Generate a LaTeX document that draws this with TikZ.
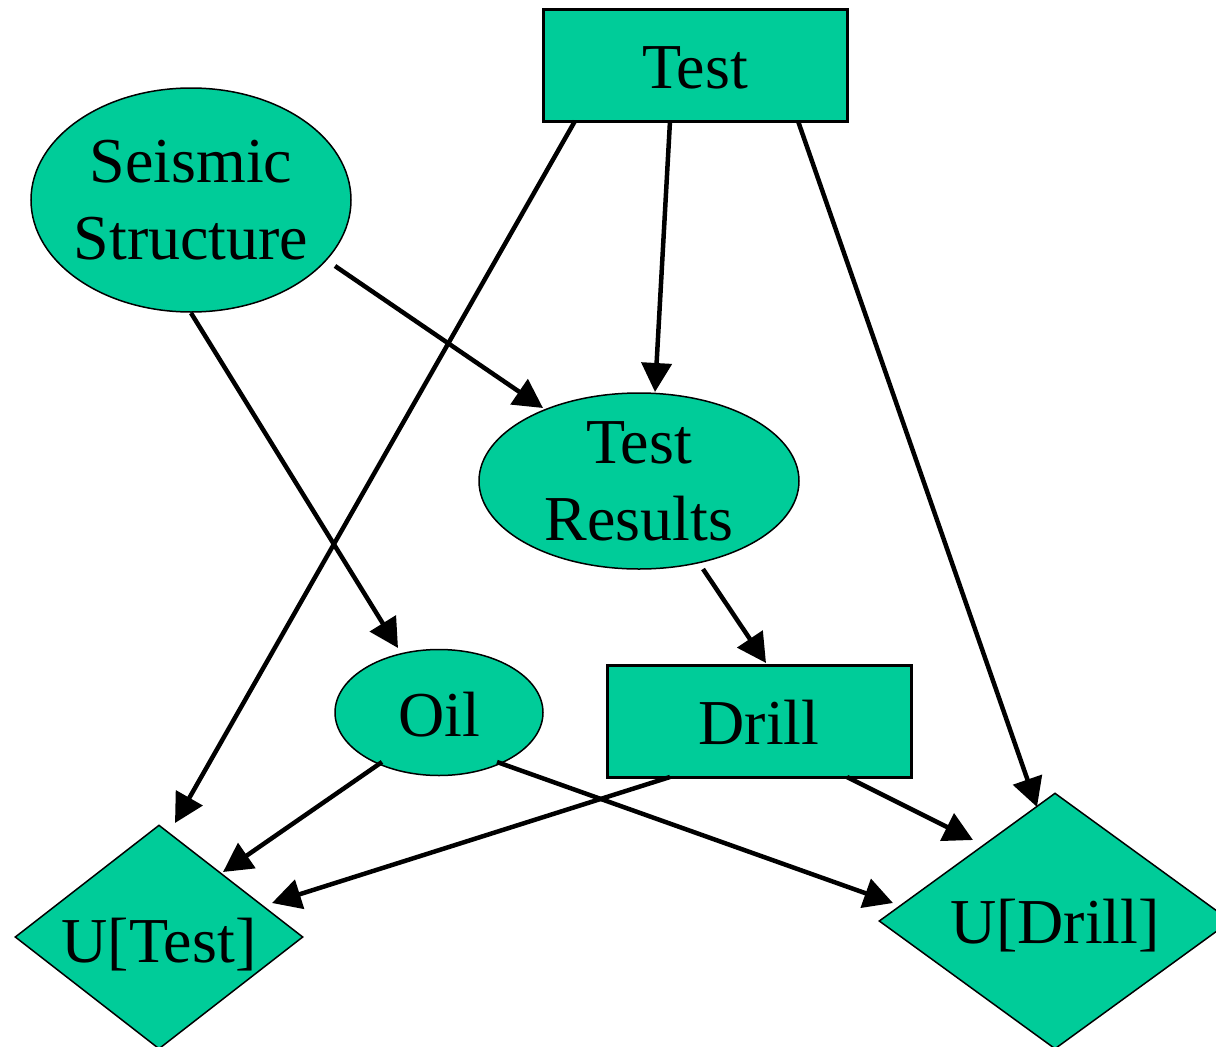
\documentclass[tikz,border=0pt]{standalone}
\usepackage{fontspec}
\setmainfont{Liberation Serif}
\usetikzlibrary{shapes.geometric,arrows.meta}
\definecolor{nodegreen}{RGB}{0,204,153}
\begin{document}
\begin{tikzpicture}[x=1pt,y=-1pt,
  lbl/.style={font=\fontsize{64}{77}\selectfont, align=center, text=black},
  boxnode/.style={lbl, rectangle, draw=black, line width=3pt, fill=nodegreen, inner sep=0pt},
  ellnode/.style={lbl, ellipse, draw=black, line width=1.5pt, fill=nodegreen, inner sep=-45pt},
  dianode/.style={lbl, diamond, draw=black, line width=1.5pt, fill=nodegreen, inner sep=-60pt},
  conn/.style={line width=4.5pt, -{Triangle[length=29pt,width=30pt]}}
]
\useasboundingbox (0,0) rectangle (1216,1047);

\node[boxnode, minimum width=304pt, minimum height=112pt, text height=46pt, text depth=0pt] (test) at (695,65) {Test};
\node[ellnode, minimum width=320pt, minimum height=224pt] (seis) at (191,200) {Seismic\\Structure};
\node[ellnode, minimum width=320pt, minimum height=176pt] (res) at (639,481) {Test\\Results};
\node[ellnode, minimum width=208pt, minimum height=126pt, inner sep=0pt, text height=48pt, text depth=0pt] (oil) at (439,712.5) {Oil};
\node[boxnode, minimum width=304pt, minimum height=112pt, text height=46pt, text depth=0pt] (drill) at (759,721) {Drill};
\node[dianode, minimum width=288pt, minimum height=224pt, text height=50pt, text depth=0pt] (ut) at (159,937) {U[Test]};
\node[dianode, minimum width=352pt, minimum height=256pt, text height=44pt, text depth=0pt] (ud) at (1055,921) {U[Drill]};

% connectors
\draw[conn] ([shift={(-120,56)}]test.center) -- ([shift={(16,-114)}]ut.center);
\draw[conn] ([shift={(-25,56)}]test.center) -- ([shift={(16,-89)}]res.center);
\draw[conn] ([shift={(103,56)}]test.center) -- ([shift={(-18,-114)}]ud.center);
\draw[conn] ([shift={(144,66)}]seis.center) -- ([shift={(-96,-73)}]res.center);
\draw[conn] ([shift={(0,113)}]seis.center) -- ([shift={(-41,-64.5)}]oil.center);
\draw[conn] ([shift={(64,88)}]res.center) -- ([shift={(7,-58)}]drill.center);
\draw[conn] ([shift={(-57,49.5)}]oil.center) -- ([shift={(64,-65)}]ut.center);
\draw[conn] ([shift={(58,49.5)}]oil.center) -- ([shift={(-162,-18)}]ud.center);
\draw[conn] ([shift={(-89,56)}]drill.center) -- ([shift={(113,-34)}]ut.center);
\draw[conn] ([shift={(88,56)}]drill.center) -- ([shift={(-82,-81)}]ud.center);
\end{tikzpicture}
\end{document}
